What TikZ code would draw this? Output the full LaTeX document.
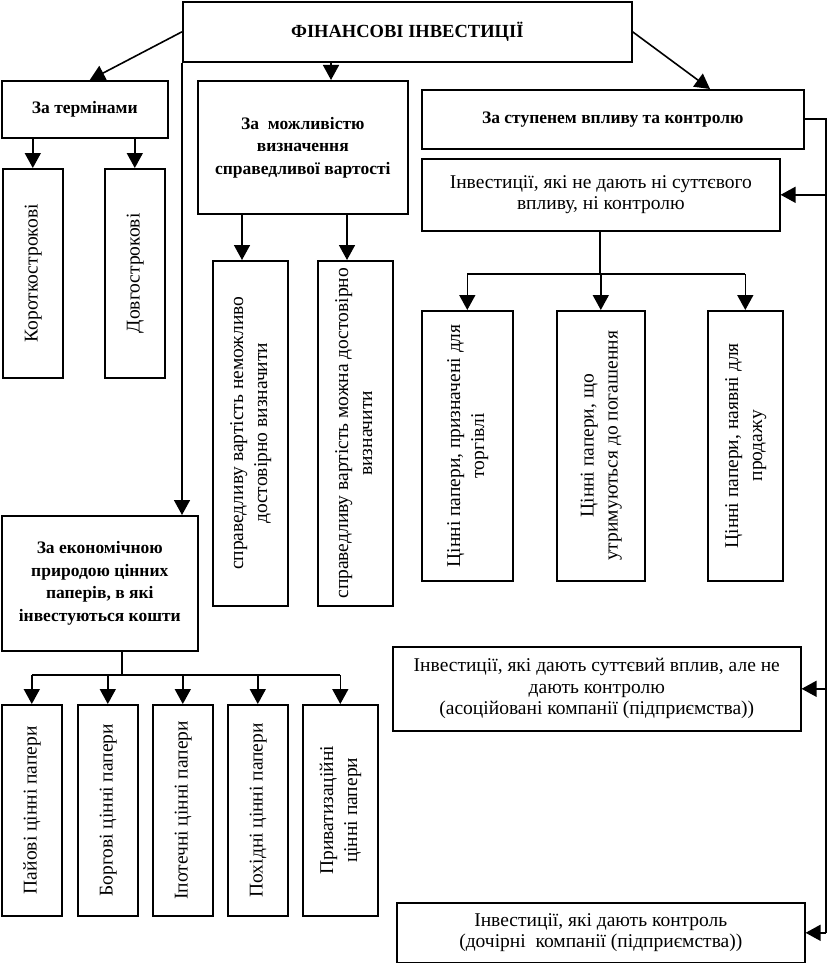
\documentclass[tikz,border=0pt]{standalone}
\usepackage{fontspec}
\usepackage{graphicx}
\setmainfont{Liberation Serif}
\usetikzlibrary{arrows.meta}
\newcommand{\vtext}[1]{\rotatebox{90}{\fontsize{19.5}{24}\selectfont\begin{tabular}{@{}c@{}}#1\end{tabular}}}
\begin{document}
\begin{tikzpicture}[x=1pt,y=1pt,
  box/.style={draw,line width=1.6pt,inner sep=0pt,align=center,anchor=north west,
    font=\fontsize{19.5}{21.5}\selectfont},
  bbox/.style={box,font=\fontsize{17.5}{22.5}\selectfont\bfseries},
  ln/.style={line width=1.6pt},
  arr/.style={line width=1.6pt,-{Triangle[width=16pt,length=15pt]}}]
\useasboundingbox (0,0) rectangle (829,-963);
% top
\node[box,minimum width=449,minimum height=60,font=\fontsize{18.5}{22}\selectfont\bfseries] (fin) at (182,-1) {ФІНАНСОВІ ІНВЕСТИЦІЇ};
% left group
\node[bbox,minimum width=166,minimum height=57] (term) at (1,-80) {За термінами};
\node[box,minimum width=60,minimum height=209] (kor) at (2,-168) {\vtext{Короткострокові}};
\node[box,minimum width=60,minimum height=209] (dov) at (104,-168) {\vtext{Довгострокові}};
% middle group
\node[bbox,minimum width=210,minimum height=133] (mozh) at (197,-80) {За\ \ можливістю\\визначення\\справедливої вартості};
\node[box,minimum width=75,minimum height=345] (nem) at (212,-260) {\vtext{справедливу вартість неможливо\\достовірно визначити}};
\node[box,minimum width=75,minimum height=345] (mozhna) at (317,-260) {\vtext{справедливу вартість можна достовірно\\визначити}};
% economic nature group
\node[bbox,minimum width=196,minimum height=135] (ekon) at (1,-515) {За економічною\\природою цінних\\паперів, в які\\інвестуються кошти};
\node[box,minimum width=60,minimum height=211] (pai) at (1,-704) {\vtext{Пайові цінні папери}};
\node[box,minimum width=60,minimum height=211] (borg) at (77,-704) {\vtext{Боргові цінні папери}};
\node[box,minimum width=60,minimum height=211] (ipot) at (152,-704) {\vtext{Іпотечні цінні папери}};
\node[box,minimum width=60,minimum height=211] (pokh) at (227,-704) {\vtext{Похідні цінні папери}};
\node[box,minimum width=75,minimum height=211] (pryv) at (302,-704) {\vtext{Приватизаційні\\цінні папери}};
% right group
\node[bbox,minimum width=382,minimum height=59] (stup) at (421,-89) {За ступенем впливу та контролю};
\node[box,minimum width=358,minimum height=72] (nevpl) at (421,-158) {Інвестиції, які не дають ні суттєвого\\впливу, ні контролю};
\node[box,minimum width=91,minimum height=270] (torg) at (421,-310) {\vtext{Цінні папери, призначені для\\торгівлі}};
\node[box,minimum width=88,minimum height=270] (pogash) at (556,-310) {\vtext{Цінні папери, що\\утримуються до погашення}};
\node[box,minimum width=75,minimum height=270] (prod) at (707,-310) {\vtext{Цінні папери, наявні для\\продажу}};
\node[box,minimum width=408,minimum height=84] (asoc) at (392,-646) {Інвестиції, які дають суттєвий вплив, але не\\дають контролю\\(асоційовані компанії (підприємства))};
\node[box,minimum width=408,minimum height=60] (doch) at (396,-902) {Інвестиції, які дають контроль\\(дочірні\ \ компанії (підприємства))};
% helper coordinates
\coordinate (xa) at (331,0);
\coordinate (xb) at (710,0);
\coordinate (xc) at (242,0);
\coordinate (xd) at (347,0);
\coordinate (bus1) at (122,-675);
\coordinate (bus2) at (600,-274);
\coordinate (railx) at (826,0);
% connectors from top
\draw[arr] (fin.west) -- ([xshift=5pt]term.north);
\draw[arr] (fin.south -| xa) -- (mozh.north -| xa);
\draw[arr] (fin.east) -- (stup.north -| xb);
\draw[arr] (fin.south west) -- (fin.south west |- ekon.north);
% term children
\draw[arr] (term.south -| kor.north) -- (kor.north);
\draw[arr] (term.south -| dov.north) -- (dov.north);
% mozh children
\draw[arr] (mozh.south -| xc) -- (nem.north -| xc);
\draw[arr] (mozh.south -| xd) -- (mozhna.north -| xd);
% ekon children
\draw[ln] (ekon.south -| bus1) -- (bus1);
\draw[ln] (bus1 -| pai.north) -- (bus1 -| pryv.north);
\foreach \n in {pai,borg,ipot,pokh,pryv}
  \draw[arr] (bus1 -| \n.north) -- (\n.north);
% nevpl children
\draw[ln] (nevpl.south -| bus2) -- (bus2);
\draw[ln] (bus2 -| torg.north) -- (bus2 -| prod.north);
\foreach \n in {torg,pogash,prod}
  \draw[arr] (bus2 -| \n.north) -- (\n.north);
% right rail
\draw[ln] (stup.east) -- (stup.east -| railx) -- (doch.east -| railx);
\draw[arr] (nevpl.east -| railx) -- (nevpl.east);
\draw[arr] (asoc.east -| railx) -- (asoc.east);
\draw[arr] (doch.east -| railx) -- (doch.east);
\end{tikzpicture}
\end{document}
